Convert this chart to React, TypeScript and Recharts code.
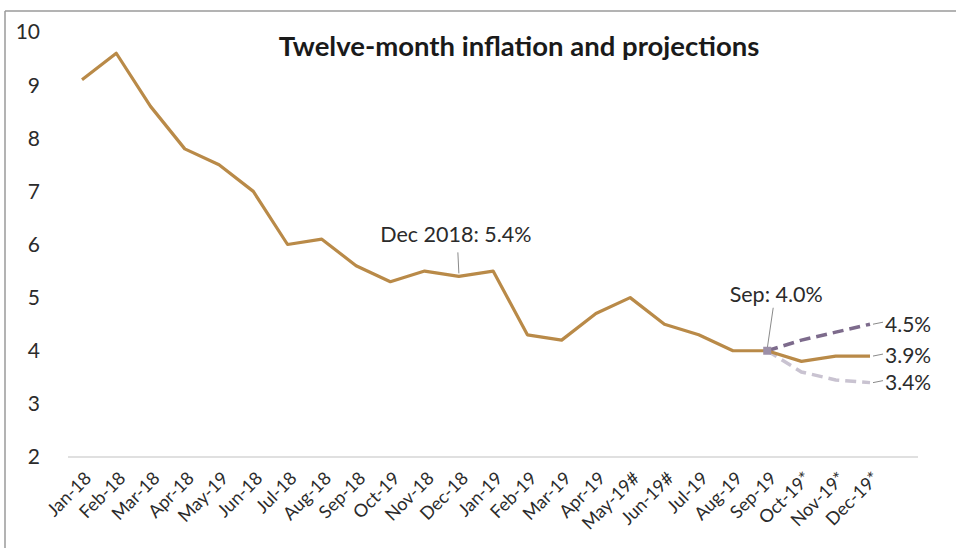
import { LineChart, Line, XAxis, YAxis, CartesianGrid } from 'recharts'

const months = [
  'Jan-18', 'Feb-18', 'Mar-18', 'Apr-18', 'May-19', 'Jun-18', 'Jul-18', 'Aug-18',
  'Sep-18', 'Oct-19', 'Nov-18', 'Dec-18', 'Jan-19', 'Feb-19', 'Mar-19', 'Apr-19',
  'May-19#', 'Jun-19#', 'Jul-19', 'Aug-19', 'Sep-19', 'Oct-19*', 'Nov-19*', 'Dec-19*',
]

const inflation = [
  9.1, 9.6, 8.6, 7.8, 7.5, 7.0, 6.0, 6.1, 5.6, 5.3, 5.5, 5.4,
  5.5, 4.3, 4.2, 4.7, 5.0, 4.5, 4.3, 4.0, 4.0, 3.8, 3.9, 3.9,
]

const upper = [
  null, null, null, null, null, null, null, null, null, null, null, null,
  null, null, null, null, null, null, null, null, 4.0, 4.2, 4.35, 4.5,
]

const lower = [
  null, null, null, null, null, null, null, null, null, null, null, null,
  null, null, null, null, null, null, null, null, 4.0, 3.6, 3.45, 3.4,
]

const yTicks = [2, 3, 4, 5, 6, 7, 8, 9, 10]

const title = 'Twelve-month inflation and projections'
const decNote = 'Dec 2018: 5.4%'
const sepNote = 'Sep: 4.0%'
const endNotes = { main: '3.9%', upper: '4.5%', lower: '3.4%' }

const data = months.map((m, i) => ({
  month: m,
  inflation: inflation[i],
  upper: upper[i],
  lower: lower[i],
}))

const FONT = 'Lato, "Open Sans", sans-serif'
const TEXT = '#2b2b2b'
const LEADER = '#8a8a8a'
const last = months.length - 1

function EndLabel({ x, y, text }: { x: number; y: number; text: string }) {
  return (
    <g>
      <line x1={x + 3} y1={y} x2={x + 13} y2={y - 2} stroke={LEADER} strokeWidth={1} />
      <text x={x + 15} y={y} dy="0.35em" fontSize={21} fontFamily={FONT} fill={TEXT}>
        {text}
      </text>
    </g>
  )
}

function mainLabel(props: any) {
  const { x, y, index } = props
  if (index === 11) {
    return (
      <g key="dec">
        <line x1={x} y1={y - 3} x2={x - 1} y2={y - 24} stroke={LEADER} strokeWidth={1} />
        <text x={x - 3} y={y - 34} textAnchor="middle" fontSize={21.5} fontFamily={FONT} fill={TEXT}>
          {decNote}
        </text>
      </g>
    )
  }
  if (index === 20) {
    return (
      <g key="sep">
        <line x1={x} y1={y - 2} x2={x + 6} y2={y - 43} stroke={LEADER} strokeWidth={1} />
        <text x={x + 9} y={y - 49} textAnchor="middle" fontSize={21.5} fontFamily={FONT} fill={TEXT}>
          {sepNote}
        </text>
        <rect x={x - 4} y={y - 4} width={8} height={8} fill="#9c8fa8" />
      </g>
    )
  }
  if (index === last) return <EndLabel key="end" x={x} y={y} text={endNotes.main} />
  return null
}

function upperLabel(props: any) {
  const { x, y, index } = props
  if (index === last) return <EndLabel key="u" x={x} y={y} text={endNotes.upper} />
  return null
}

function lowerLabel(props: any) {
  const { x, y, index } = props
  if (index === last) return <EndLabel key="l" x={x} y={y} text={endNotes.lower} />
  return null
}

function MonthTick(props: any) {
  const { x, y, payload } = props
  const tx = x + 6
  const ty = y + 18
  return (
    <text
      x={tx}
      y={ty}
      dy="0.35em"
      textAnchor="end"
      transform={`rotate(-45, ${tx}, ${ty})`}
      fontSize={18}
      fontFamily={FONT}
      fill={TEXT}
    >
      {payload.value}
    </text>
  )
}

export default function App() {
  return (
    <div style={{ position: 'fixed', left: 0, top: 0, width: 956, height: 548, background: '#fff' }}>
      <svg width={956} height={548} style={{ position: 'absolute', left: 0, top: 0 }}>
        <line x1={5} y1={11} x2={5} y2={548} stroke="#9a9a9a" strokeWidth={1.5} />
        <line x1={5} y1={11} x2={956} y2={11} stroke="#9a9a9a" strokeWidth={1.5} />
        <text x={519} y={56} textAnchor="middle" fontSize={27.5} fontWeight={700} fontFamily={FONT} fill="#1a1a1a">
          {title}
        </text>
      </svg>
      <div style={{ position: 'absolute', left: 0, top: 0 }}>
        <LineChart width={956} height={548} data={data} margin={{ top: 32, right: 38, bottom: 0, left: 0 }}>
          <CartesianGrid horizontal={false} vertical={false} />
          <XAxis
            dataKey="month"
            interval={0}
            padding={{ left: 14, right: 48 }}
            axisLine={{ stroke: '#d6d6d6', strokeWidth: 1.5 }}
            tickLine={false}
            tickSize={0}
            tickMargin={0}
            height={91}
            tick={<MonthTick />}
          />
          <YAxis
            domain={[2, 10]}
            ticks={yTicks}
            width={68}
            axisLine={false}
            tickLine={false}
            tickSize={0}
            tickMargin={28}
            tick={{ fontSize: 21, fontFamily: FONT, fill: TEXT }}
          />
          <Line
            dataKey="upper"
            stroke="#7d6b8c"
            strokeWidth={3.5}
            strokeDasharray="11 6"
            dot={false}
            connectNulls={false}
            isAnimationActive={false}
            label={upperLabel}
          />
          <Line
            dataKey="lower"
            stroke="#c9c3d1"
            strokeWidth={3.5}
            strokeDasharray="11 6"
            dot={false}
            isAnimationActive={false}
            label={lowerLabel}
          />
          <Line
            dataKey="inflation"
            stroke="#b98a48"
            strokeWidth={3.2}
            strokeLinejoin="round"
            dot={false}
            isAnimationActive={false}
            label={mainLabel}
          />
        </LineChart>
      </div>
    </div>
  )
}
